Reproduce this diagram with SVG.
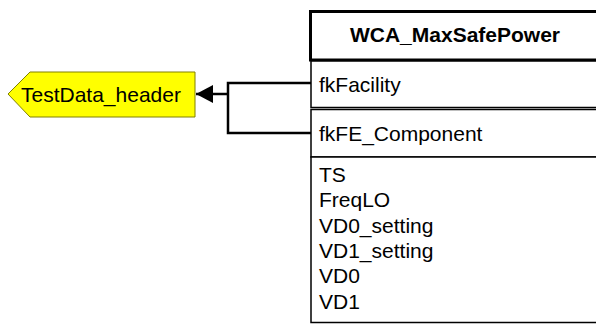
<svg xmlns="http://www.w3.org/2000/svg" width="596" height="325" viewBox="0 0 596 325">
<style>
.t{font-family:"Liberation Sans",Arial,sans-serif;font-size:21px;fill:#000}
.b{font-weight:bold}
.box{fill:#fff;stroke:#000;stroke-width:1.5}
.conn{fill:none;stroke:#000;stroke-width:2.5}
</style>
<defs>
<marker id="arr" markerWidth="18" markerHeight="18" refX="17" refY="9" orient="auto" markerUnits="userSpaceOnUse">
<path d="M0,0 L17,9 L0,18 Z" fill="#000"/>
</marker>
</defs>
<g id="connectors">
<polyline class="conn" points="311,83 228,83 228,133 311,133"/>
<line class="conn" x1="228" y1="94" x2="196" y2="94" marker-end="url(#arr)"/>
</g>
<g id="TestData_header">
<polygon points="8,94 30,72 195,72 195,117 30,117" fill="#ffff00" stroke="#808000" stroke-width="1"/>
<text class="t" x="21" y="101.5">TestData_header</text>
</g>
<g id="WCA_MaxSafePower">
<rect x="310.5" y="11.5" width="300" height="48.5" fill="#fff" stroke="#000" stroke-width="3"/>
<text class="t b" x="455" y="42" text-anchor="middle">WCA_MaxSafePower</text>
<rect class="box" x="311" y="61" width="300" height="46.5"/>
<text class="t" x="319" y="91.5">fkFacility</text>
<rect class="box" x="311" y="109.5" width="300" height="47.5"/>
<text class="t" x="319" y="141">fkFE_Component</text>
<rect class="box" x="311" y="157" width="300" height="165.5"/>
<text class="t" x="319" y="182">TS</text>
<text class="t" x="319" y="207.3">FreqLO</text>
<text class="t" x="319" y="232.6">VD0_setting</text>
<text class="t" x="319" y="258">VD1_setting</text>
<text class="t" x="319" y="283.3">VD0</text>
<text class="t" x="319" y="308.5">VD1</text>
</g>
</svg>
